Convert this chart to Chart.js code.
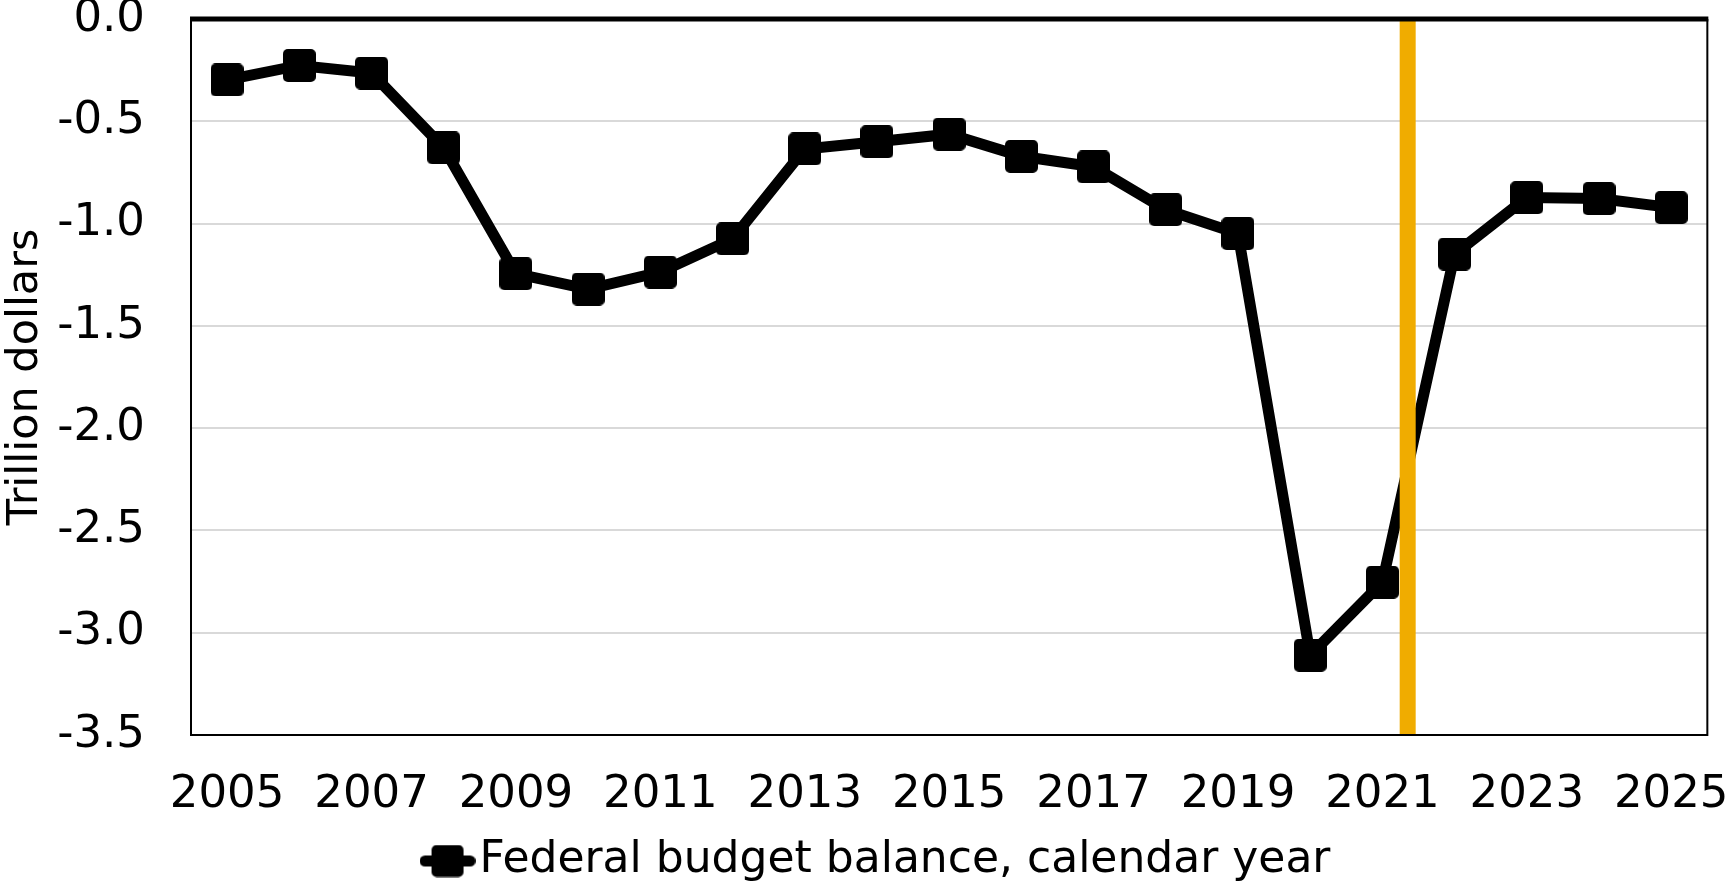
<!DOCTYPE html>
<html>
<head>
<meta charset="utf-8">
<script src="https://cdn.jsdelivr.net/npm/chart.js@4.4.1/dist/chart.umd.min.js"></script>
<style>
  html, body { margin: 0; padding: 0; background: #ffffff; }
  #wrap { width: 1729px; height: 884px; position: relative; }
</style>
</head>
<body>
<div id="wrap"><canvas id="chart" width="1729" height="884"></canvas></div>
<script>
// Federal budget balance by calendar year, trillions of dollars
const years = [2005, 2006, 2007, 2008, 2009, 2010, 2011, 2012, 2013, 2014, 2015,
               2016, 2017, 2018, 2019, 2020, 2021, 2022, 2023, 2024, 2025];
const balance = [-0.298, -0.227, -0.264, -0.630, -1.245, -1.320, -1.237, -1.075, -0.635, -0.600, -0.563,
                 -0.671, -0.723, -0.932, -1.049, -3.110, -2.753, -1.149, -0.873, -0.878, -0.922];
const yearTicks = [2005, 2007, 2009, 2011, 2013, 2015, 2017, 2019, 2021, 2023, 2025];
const valueTicks = [-3.5, -3.0, -2.5, -2.0, -1.5, -1.0, -0.5, 0];
const markerYear = 2021.35;           // vertical reference line
const seriesLabel = 'Federal budget balance, calendar year';
const axisTitle = 'Trillion dollars';

const FONT = '"DejaVu Sans", sans-serif';
const PLOT_TOP = 19, PLOT_BOTTOM = 735, PLOT_LEFT = 191, PLOT_RIGHT_PAD = 21;
const LEGEND_SHIFT_X = 30, LEGEND_SHIFT_Y = 9;

// rounded-square marker
function squareMarker(side, radius) {
  const c = document.createElement('canvas');
  c.width = side; c.height = side;
  const g = c.getContext('2d');
  g.fillStyle = '#000';
  g.beginPath();
  g.roundRect(0, 0, side, side, radius);
  g.fill();
  return c;
}
// legend glyph: short line with the marker in the middle
function legendGlyph() {
  const w = 56, h = 33;
  const c = document.createElement('canvas');
  c.width = w; c.height = h;
  const g = c.getContext('2d');
  g.strokeStyle = '#000';
  g.lineWidth = 11;
  g.lineCap = 'round';
  g.beginPath();
  g.moveTo(5.5, h / 2);
  g.lineTo(w - 5.5, h / 2);
  g.stroke();
  g.fillStyle = '#000';
  g.beginPath();
  g.roundRect(12, 0.5, 32, 32, 5);
  g.fill();
  return c;
}

const marker = squareMarker(33, 5);
const glyph = legendGlyph();

// plot frame drawn over the data, thick line along zero at the top
const framePlugin = {
  id: 'frame',
  afterLayout(chart) {
    const lg = chart.legend;
    if (lg) {
      lg.left += LEGEND_SHIFT_X;
      lg.right += LEGEND_SHIFT_X;
      lg.top += LEGEND_SHIFT_Y;
      lg.bottom += LEGEND_SHIFT_Y;
    }
  },
  afterDatasetsDraw(chart) {
    const a = chart.chartArea;
    const ctx = chart.ctx;
    ctx.save();
    ctx.strokeStyle = '#000';
    ctx.lineWidth = 2;
    ctx.beginPath();
    ctx.moveTo(a.left, a.top);
    ctx.lineTo(a.left, a.bottom);
    ctx.lineTo(a.right, a.bottom);
    ctx.lineTo(a.right, a.top);
    ctx.stroke();
    const yZero = chart.scales.y.getPixelForValue(0);
    ctx.lineWidth = 5;
    ctx.beginPath();
    ctx.moveTo(a.left - 1, yZero);
    ctx.lineTo(a.right + 1, yZero);
    ctx.stroke();
    ctx.restore();
  }
};

new Chart(document.getElementById('chart'), {
  type: 'line',
  data: {
    datasets: [
      {
        label: seriesLabel,
        data: years.map((yr, i) => ({ x: yr, y: balance[i] })),
        borderColor: '#000',
        backgroundColor: '#000',
        borderWidth: 11,
        tension: 0,
        pointStyle: marker,
        pointRadius: 17,
        pointHoverRadius: 17,
        pointBorderWidth: 0,
        pointHoverBorderWidth: 0,
        order: 2
      },
      {
        label: 'marker',
        data: [{ x: markerYear, y: valueTicks[valueTicks.length - 1] }, { x: markerYear, y: valueTicks[0] }],
        borderColor: '#F0AC00',
        borderWidth: 16,
        borderCapStyle: 'butt',
        pointRadius: 0,
        pointHoverRadius: 0,
        pointBorderWidth: 0,
        order: 1
      }
    ]
  },
  options: {
    responsive: false,
    animation: false,
    events: [],
    layout: {
      autoPadding: false,
      padding: { top: PLOT_TOP, right: PLOT_RIGHT_PAD, left: 0, bottom: 0 }
    },
    plugins: {
      tooltip: { enabled: false },
      legend: {
        position: 'bottom',
        labels: {
          usePointStyle: true,
          pointStyleWidth: 20,
          boxHeight: 33,
          padding: 0,
          color: '#000',
          font: { family: FONT, size: 44, lineHeight: 1.2 },
          generateLabels() {
            return [{
              text: seriesLabel,
              pointStyle: glyph,
              fillStyle: '#000',
              strokeStyle: '#000',
              lineWidth: 0,
              datasetIndex: 0,
              hidden: false,
              fontColor: '#000'
            }];
          }
        }
      }
    },
    scales: {
      x: {
        type: 'linear',
        min: 2004.5,
        max: 2025.5,
        grid: {
          display: true,
          drawOnChartArea: false,
          drawTicks: true,
          tickLength: 33,
          color: 'rgba(0,0,0,0)',
          tickColor: 'rgba(0,0,0,0)'
        },
        border: { display: false },
        afterBuildTicks(scale) {
          scale.ticks = yearTicks.map(v => ({ value: v }));
        },
        afterFit(scale) {
          const legendH = scale.chart.legend ? scale.chart.legend.height : 0;
          scale.height = scale.chart.height - PLOT_BOTTOM - legendH;
        },
        ticks: {
          autoSkip: false,
          maxRotation: 0,
          padding: 0,
          color: '#000',
          font: { family: FONT, size: 45, lineHeight: 1.2 },
          callback: v => String(v)
        }
      },
      y: {
        min: -3.5,
        max: 0,
        afterBuildTicks(scale) {
          scale.ticks = valueTicks.map(v => ({ value: v }));
        },
        afterFit(scale) { scale.width = PLOT_LEFT; },
        border: { display: false },
        grid: {
          drawTicks: true,
          tickLength: 46,
          tickColor: 'rgba(0,0,0,0)',
          color: ctx => (ctx.tick && ctx.tick.value === 0) ? 'rgba(0,0,0,0)' : '#d9d9d9',
          lineWidth: 2
        },
        ticks: {
          padding: 0,
          color: '#000',
          font: { family: FONT, size: 45, lineHeight: 0.8 },
          callback: v => Number(v).toFixed(1)
        },
        title: {
          display: true,
          text: axisTitle,
          color: '#000',
          padding: 0,
          font: { family: FONT, size: 43, lineHeight: 1.2 }
        }
      }
    }
  },
  plugins: [framePlugin]
});
</script>
</body>
</html>
